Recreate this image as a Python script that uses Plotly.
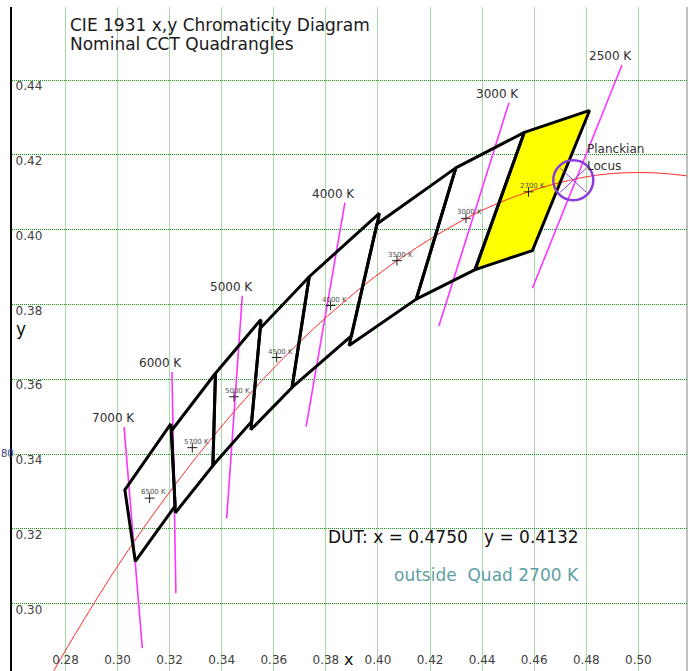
import plotly.graph_objects as go

# ---- Nominal CCT quadrangles (ANSI C78.377) ----
quad_cct = ["2700 K", "3000 K", "3500 K", "4000 K", "4500 K", "5000 K", "5700 K", "6500 K"]
quad_center_x = [0.4578, 0.4338, 0.4073, 0.3818, 0.3611, 0.3447, 0.3287, 0.3123]
quad_center_y = [0.4101, 0.4030, 0.3917, 0.3797, 0.3658, 0.3553, 0.3417, 0.3282]
quad_corner_x = [
    [0.4813, 0.4562, 0.4373, 0.4593],
    [0.4562, 0.4299, 0.4147, 0.4373],
    [0.4299, 0.3996, 0.3889, 0.4147],
    [0.4006, 0.3736, 0.3670, 0.3898],
    [0.3736, 0.3548, 0.3512, 0.3670],
    [0.3551, 0.3376, 0.3366, 0.3515],
    [0.3376, 0.3207, 0.3222, 0.3366],
    [0.3205, 0.3028, 0.3068, 0.3221],
]
quad_corner_y = [
    [0.4319, 0.4260, 0.3893, 0.3944],
    [0.4260, 0.4165, 0.3814, 0.3893],
    [0.4165, 0.4015, 0.3690, 0.3814],
    [0.4044, 0.3874, 0.3578, 0.3716],
    [0.3874, 0.3736, 0.3465, 0.3578],
    [0.3760, 0.3616, 0.3369, 0.3487],
    [0.3616, 0.3462, 0.3243, 0.3369],
    [0.3481, 0.3304, 0.3113, 0.3261],
]
highlight_quad = "2700 K"

# ---- Planckian locus (x, y) ----
locus_x = [0.5381, 0.5269, 0.5160, 0.5054, 0.4953, 0.4857, 0.4770, 0.4599, 0.4369,
           0.4053, 0.3805, 0.3608, 0.3451, 0.3325, 0.3221, 0.3135, 0.3064, 0.3003,
           0.2952, 0.2870, 0.2807, 0.2758, 0.2718]
locus_y = [0.4111, 0.4133, 0.4146, 0.4152, 0.4152, 0.4147, 0.4137, 0.4106, 0.4041,
           0.3907, 0.3768, 0.3636, 0.3516, 0.3411, 0.3318, 0.3237, 0.3166, 0.3103,
           0.3048, 0.2956, 0.2883, 0.2824, 0.2775]

# ---- Isotemperature lines (upper end, lower end) ----
iso_labels = ["7000 K", "6000 K", "5000 K", "4000 K", "3000 K", "2500 K"]
iso_x_top = [0.3025, 0.3209, 0.3479, 0.3873, 0.4503, 0.4937]
iso_y_top = [0.3472, 0.3619, 0.3823, 0.4072, 0.4339, 0.4440]
iso_x_bot = [0.3095, 0.3224, 0.3419, 0.3724, 0.4234, 0.4593]
iso_y_bot = [0.2881, 0.3028, 0.3228, 0.3473, 0.3742, 0.3843]

# ---- Device under test ----
dut_x = 0.4750
dut_y = 0.4132
dut_status = "outside  Quad 2700 K"

# ---- axis ticks ----
x_ticks = [0.28, 0.30, 0.32, 0.34, 0.36, 0.38, 0.40, 0.42, 0.44, 0.46, 0.48, 0.50]
y_ticks = [0.30, 0.32, 0.34, 0.36, 0.38, 0.40, 0.42, 0.44]

W, H = 688, 671
ML, MR, MT, MB = 12, 1, 7, 0
X_RANGE = [0.25946, 0.51867]
Y_RANGE = [0.28198, 0.45952]
FONT = "DejaVu Sans"


def px(xp):
    return (xp - ML) / (W - ML - MR)


def py(yp):
    return (H - MB - yp) / (H - MT - MB)


fig = go.Figure()

# highlighted quadrangle fill
for name, qx, qy in zip(quad_cct, quad_corner_x, quad_corner_y):
    if name == highlight_quad:
        fig.add_trace(go.Scatter(x=qx + qx[:1], y=qy + qy[:1], mode="lines",
                                 fill="toself", fillcolor="#FFFF00",
                                 line=dict(width=0), hoverinfo="skip"))

# isotemperature lines
for xt, yt, xb, yb in zip(iso_x_top, iso_y_top, iso_x_bot, iso_y_bot):
    fig.add_trace(go.Scatter(x=[xt, xb], y=[yt, yb], mode="lines",
                             line=dict(color="#FF33FF", width=1.6), hoverinfo="skip"))

# Planckian locus
fig.add_trace(go.Scatter(x=locus_x, y=locus_y, mode="lines", line_shape="spline",
                         line=dict(color="#FF2A2A", width=1), hoverinfo="skip"))

# quadrangle outlines
for qx, qy in zip(quad_corner_x, quad_corner_y):
    fig.add_trace(go.Scatter(x=qx + qx[:1], y=qy + qy[:1], mode="lines",
                             line=dict(color="#000000", width=3), hoverinfo="skip"))

# quadrangle centres
fig.add_trace(go.Scatter(x=quad_center_x, y=quad_center_y, mode="markers",
                         marker=dict(symbol="cross-thin", size=7,
                                     line=dict(color="#202020", width=1)),
                         hoverinfo="skip"))
for name, cx, cy in zip(quad_cct, quad_center_x, quad_center_y):
    fig.add_annotation(x=cx, y=cy, text=name, showarrow=False, xshift=4, yshift=6,
                       font=dict(family=FONT, size=7, color="#505050"))

# isotherm labels
for name, xt, yt in zip(iso_labels, iso_x_top, iso_y_top):
    fig.add_annotation(x=xt, y=yt, text=name, showarrow=False, xshift=-11, yshift=9,
                       font=dict(family=FONT, size=12, color="#303030"))

# DUT marker: circle with a cross
fig.add_shape(type="circle", xref="x", yref="y", xsizemode="pixel", ysizemode="pixel",
              xanchor=dut_x, yanchor=dut_y, x0=-20, x1=20, y0=-20, y1=20,
              line=dict(color="#8A3CDC", width=2.5))
for sx in (-1, 1):
    fig.add_shape(type="line", xref="x", yref="y", xsizemode="pixel", ysizemode="pixel",
                  xanchor=dut_x, yanchor=dut_y, x0=-13 * sx, x1=13 * sx, y0=-12, y1=12,
                  line=dict(color="#8A3CDC", width=1))

# right frame line
fig.add_shape(type="line", xref="paper", yref="paper", x0=1, x1=1, y0=0, y1=1,
              line=dict(color="#808080", width=1))

texts = [
    ("CIE 1931 x,y Chromaticity Diagram", 69, 25, "left", "middle", 17, "#1A1A1A"),
    ("Nominal CCT Quadrangles", 69, 44, "left", "middle", 17, "#1A1A1A"),
    ("Planckian", 586, 149, "left", "middle", 12, "#303030"),
    ("Locus", 586, 166, "left", "middle", 12, "#303030"),
    ("DUT: x = %.4f\u00a0\u00a0\u00a0y = %.4f" % (dut_x, dut_y), 327, 537, "left", "middle", 17, "#111111"),
    (dut_status.replace(" ", "\u00a0"), 393, 575, "left", "middle", 17, "#5F9FA6"),
    ("x", 348, 670, "center", "bottom", 16, "#111111"),
    ("y", 21, 329, "center", "middle", 17, "#111111"),
    ("80", 0, 453, "left", "middle", 10, "#404080"),
]
for t, xp, yp, anchor, vanchor, size, col in texts:
    fig.add_annotation(xref="paper", yref="paper", x=px(xp), y=py(yp), text=t,
                       showarrow=False, xanchor=anchor, yanchor=vanchor,
                       borderpad=0,
                       font=dict(family=FONT, size=size, color=col))

fig.update_layout(
    width=W, height=H,
    margin=dict(l=ML, r=MR, t=MT, b=MB, pad=0),
    paper_bgcolor="white", plot_bgcolor="white",
    showlegend=False,
    font=dict(family=FONT, size=12, color="#404040"),
    xaxis=dict(range=X_RANGE, tickvals=x_ticks, ticktext=["%.2f" % v for v in x_ticks],
               showgrid=True, gridcolor="#A4D9A4", gridwidth=1,
               zeroline=False, showline=False, ticks="",
               ticklabelposition="inside", ticklabelstandoff=2,
               tickfont=dict(family=FONT, size=12, color="#404040")),
    yaxis=dict(range=Y_RANGE, tickvals=y_ticks, ticktext=["%.2f" % v for v in y_ticks],
               showgrid=True, gridcolor="#109A10", griddash="1px,1px", gridwidth=1,
               zeroline=False, showline=True, linecolor="#000000", linewidth=2,
               ticks="", ticklabelposition="inside", ticklabelshift=6,
               ticklabelstandoff=3,
               tickfont=dict(family=FONT, size=12, color="#404040")),
)

fig.write_html("out.html")
